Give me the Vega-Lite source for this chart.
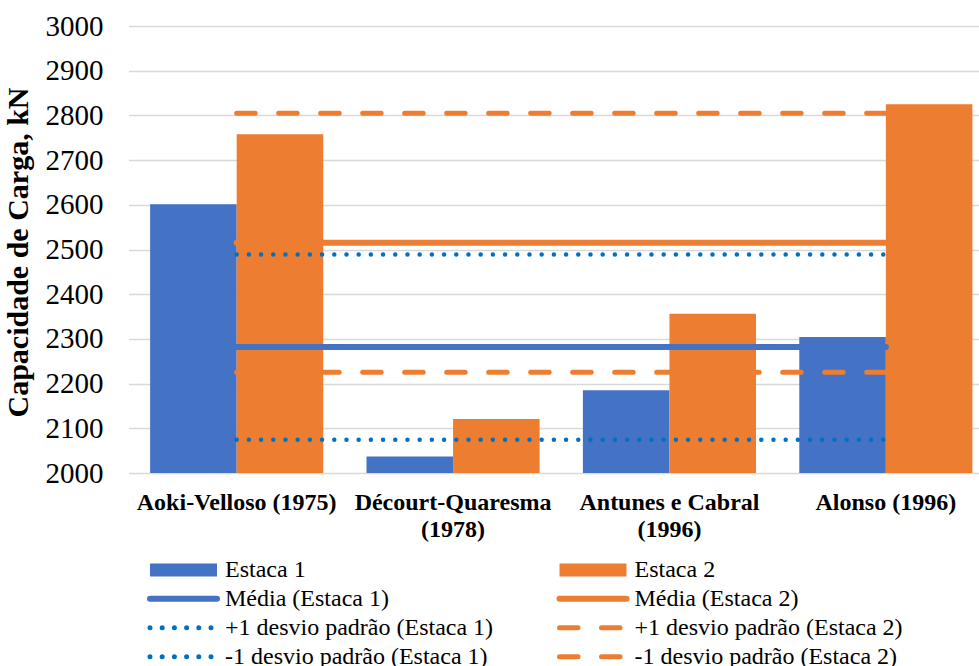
{
  "$schema": "https://vega.github.io/schema/vega-lite/v6.json",
  "width": 850.5,
  "height": 447,
  "autosize": {"type": "none"},
  "padding": {"left": 128.5, "top": 26, "right": 0, "bottom": 193},
  "background": "white",
  "config": {
    "view": {"stroke": null},
    "font": "Liberation Serif"
  },
  "datasets": {
    "estacas": [
      {"metodo": "Aoki-Velloso (1975)", "serie": "Estaca 1", "valor": 2601},
      {"metodo": "Aoki-Velloso (1975)", "serie": "Estaca 2", "valor": 2758},
      {"metodo": "Décourt-Quaresma (1978)", "serie": "Estaca 1", "valor": 2037},
      {"metodo": "Décourt-Quaresma (1978)", "serie": "Estaca 2", "valor": 2121},
      {"metodo": "Antunes e Cabral (1996)", "serie": "Estaca 1", "valor": 2185},
      {"metodo": "Antunes e Cabral (1996)", "serie": "Estaca 2", "valor": 2356},
      {"metodo": "Alonso (1996)", "serie": "Estaca 1", "valor": 2304},
      {"metodo": "Alonso (1996)", "serie": "Estaca 2", "valor": 2825}
    ],
    "estatisticas": [
      {"metodo": "Aoki-Velloso (1975)", "serie": "Média (Estaca 1)", "valor": 2281.75},
      {"metodo": "Décourt-Quaresma (1978)", "serie": "Média (Estaca 1)", "valor": 2281.75},
      {"metodo": "Antunes e Cabral (1996)", "serie": "Média (Estaca 1)", "valor": 2281.75},
      {"metodo": "Alonso (1996)", "serie": "Média (Estaca 1)", "valor": 2281.75},
      {"metodo": "Aoki-Velloso (1975)", "serie": "Média (Estaca 2)", "valor": 2515},
      {"metodo": "Décourt-Quaresma (1978)", "serie": "Média (Estaca 2)", "valor": 2515},
      {"metodo": "Antunes e Cabral (1996)", "serie": "Média (Estaca 2)", "valor": 2515},
      {"metodo": "Alonso (1996)", "serie": "Média (Estaca 2)", "valor": 2515},
      {"metodo": "Aoki-Velloso (1975)", "serie": "+1 desvio padrão (Estaca 1)", "valor": 2488.9},
      {"metodo": "Décourt-Quaresma (1978)", "serie": "+1 desvio padrão (Estaca 1)", "valor": 2488.9},
      {"metodo": "Antunes e Cabral (1996)", "serie": "+1 desvio padrão (Estaca 1)", "valor": 2488.9},
      {"metodo": "Alonso (1996)", "serie": "+1 desvio padrão (Estaca 1)", "valor": 2488.9},
      {"metodo": "Aoki-Velloso (1975)", "serie": "-1 desvio padrão (Estaca 1)", "valor": 2074.6},
      {"metodo": "Décourt-Quaresma (1978)", "serie": "-1 desvio padrão (Estaca 1)", "valor": 2074.6},
      {"metodo": "Antunes e Cabral (1996)", "serie": "-1 desvio padrão (Estaca 1)", "valor": 2074.6},
      {"metodo": "Alonso (1996)", "serie": "-1 desvio padrão (Estaca 1)", "valor": 2074.6},
      {"metodo": "Aoki-Velloso (1975)", "serie": "+1 desvio padrão (Estaca 2)", "valor": 2804.7},
      {"metodo": "Décourt-Quaresma (1978)", "serie": "+1 desvio padrão (Estaca 2)", "valor": 2804.7},
      {"metodo": "Antunes e Cabral (1996)", "serie": "+1 desvio padrão (Estaca 2)", "valor": 2804.7},
      {"metodo": "Alonso (1996)", "serie": "+1 desvio padrão (Estaca 2)", "valor": 2804.7},
      {"metodo": "Aoki-Velloso (1975)", "serie": "-1 desvio padrão (Estaca 2)", "valor": 2225.3},
      {"metodo": "Décourt-Quaresma (1978)", "serie": "-1 desvio padrão (Estaca 2)", "valor": 2225.3},
      {"metodo": "Antunes e Cabral (1996)", "serie": "-1 desvio padrão (Estaca 2)", "valor": 2225.3},
      {"metodo": "Alonso (1996)", "serie": "-1 desvio padrão (Estaca 2)", "valor": 2225.3}
    ]
  },
  "layer": [
    {
      "data": {"name": "estacas"},
      "mark": {"type": "bar"},
      "encoding": {
        "x": {
          "field": "metodo",
          "type": "nominal",
          "sort": ["Aoki-Velloso (1975)", "Décourt-Quaresma (1978)", "Antunes e Cabral (1996)", "Alonso (1996)"],
          "scale": {"paddingInner": 0.2, "paddingOuter": 0.0652, "align": 0.766},
          "axis": {
            "title": null,
            "domain": false,
            "ticks": false,
            "labelAngle": 0,
            "labelFont": "Liberation Serif",
            "labelFontSize": 24,
            "labelFontWeight": "bold",
            "labelColor": "#000000",
            "labelPadding": 17,
            "labelBaseline": "top",
            "labelLineHeight": 27.5,
            "labelLimit": 0,
            "labelOverlap": false,
            "labelExpr": "datum.value === 'Décourt-Quaresma (1978)' ? ['Décourt-Quaresma', '(1978)'] : datum.value === 'Antunes e Cabral (1996)' ? ['Antunes e Cabral', '(1996)'] : datum.value"
          }
        },
        "y": {
          "field": "valor",
          "type": "quantitative",
          "scale": {"domain": [2000, 3000], "nice": false, "zero": false},
          "axis": {
            "title": "Capacidade de Carga, kN",
            "values": [2000, 2100, 2200, 2300, 2400, 2500, 2600, 2700, 2800, 2900, 3000],
            "format": "d",
            "grid": true,
            "gridColor": "#d9d9d9",
            "gridWidth": 1.5,
            "domain": false,
            "ticks": false,
            "labelFont": "Liberation Serif",
            "labelFontSize": 29,
            "labelColor": "#000000",
            "labelPadding": 25.5,
            "titleFont": "Liberation Serif",
            "titleFontSize": 30,
            "titleFontWeight": "bold",
            "titleColor": "#000000",
            "titleAngle": -90,
            "titleAlign": "center",
            "titleBaseline": "alphabetic",
            "titleX": -101,
            "titleY": 226
          }
        },
        "y2": {"datum": 2000},
        "xOffset": {
          "field": "serie",
          "type": "nominal",
          "scale": {"domain": ["Estaca 1", "Estaca 2"], "paddingInner": 0, "paddingOuter": 0}
        },
        "color": {
          "field": "serie",
          "type": "nominal",
          "scale": {
            "domain": [
              "Estaca 1", "Média (Estaca 1)", "+1 desvio padrão (Estaca 1)", "-1 desvio padrão (Estaca 1)",
              "Estaca 2", "Média (Estaca 2)", "+1 desvio padrão (Estaca 2)", "-1 desvio padrão (Estaca 2)"
            ],
            "range": ["#4472C4", "#4472C4", "#0070C0", "#0070C0", "#ED7D31", "#ED7D31", "#ED7D31", "#ED7D31"]
          },
          "legend": {
            "title": null,
            "orient": "none",
            "legendX": 15,
            "legendY": 529.5,
            "columns": 2,
            "columnPadding": 59.5,
            "rowPadding": 0,
            "padding": 0,
            "clipHeight": 28.3,
            "symbolType": "stroke",
            "symbolSize": 4489,
            "labelFont": "Liberation Serif",
            "labelFontSize": 24,
            "labelColor": "#000000",
            "labelOffset": 1.5,
            "labelLimit": 0,
            "encode": {
              "symbols": {
                "update": {
                  "strokeWidth": {"signal": "(indexof(isString(datum) ? datum : datum.value, 'Estaca') === 0 ? 13 : (indexof(isString(datum) ? datum : datum.value, 'Média') === 0 ? 6 : 5))"},
                  "strokeCap": {"signal": "(indexof(isString(datum) ? datum : datum.value, 'Estaca') === 0 ? 'butt' : 'round')"}
                }
              }
            }
          }
        },
        "strokeDash": {
          "field": "serie",
          "type": "nominal",
          "scale": {
            "domain": [
              "Estaca 1", "Média (Estaca 1)", "+1 desvio padrão (Estaca 1)", "-1 desvio padrão (Estaca 1)",
              "Estaca 2", "Média (Estaca 2)", "+1 desvio padrão (Estaca 2)", "-1 desvio padrão (Estaca 2)"
            ],
            "range": [[1, 0], [1, 0], [0, 12.2], [0, 12.2], [1, 0], [1, 0], [18.5, 23.5], [18.5, 23.5]]
          }
        }
      }
    },
    {
      "data": {"name": "estatisticas"},
      "transform": [{"filter": "indexof(datum.serie, 'Média') === 0"}],
      "mark": {"type": "line", "strokeCap": "round", "strokeWidth": 6},
      "encoding": {
        "x": {"field": "metodo", "type": "nominal", "sort": ["Aoki-Velloso (1975)", "Décourt-Quaresma (1978)", "Antunes e Cabral (1996)", "Alonso (1996)"]},
        "y": {"field": "valor", "type": "quantitative"},
        "color": {"field": "serie", "type": "nominal"},
        "strokeDash": {"field": "serie", "type": "nominal"}
      }
    },
    {
      "data": {"name": "estatisticas"},
      "transform": [{"filter": "indexof(datum.serie, 'Estaca 1)') > 0 && indexof(datum.serie, 'desvio') > 0"}],
      "mark": {"type": "line", "strokeCap": "round", "strokeWidth": 4.5},
      "encoding": {
        "x": {"field": "metodo", "type": "nominal", "sort": ["Aoki-Velloso (1975)", "Décourt-Quaresma (1978)", "Antunes e Cabral (1996)", "Alonso (1996)"]},
        "y": {"field": "valor", "type": "quantitative"},
        "color": {"field": "serie", "type": "nominal"},
        "strokeDash": {"field": "serie", "type": "nominal"}
      }
    },
    {
      "data": {"name": "estatisticas"},
      "transform": [{"filter": "indexof(datum.serie, 'Estaca 2)') > 0 && indexof(datum.serie, 'desvio') > 0"}],
      "mark": {"type": "line", "strokeCap": "round", "strokeWidth": 5},
      "encoding": {
        "x": {"field": "metodo", "type": "nominal", "sort": ["Aoki-Velloso (1975)", "Décourt-Quaresma (1978)", "Antunes e Cabral (1996)", "Alonso (1996)"]},
        "y": {"field": "valor", "type": "quantitative"},
        "color": {"field": "serie", "type": "nominal"},
        "strokeDash": {"field": "serie", "type": "nominal"}
      }
    }
  ]
}
